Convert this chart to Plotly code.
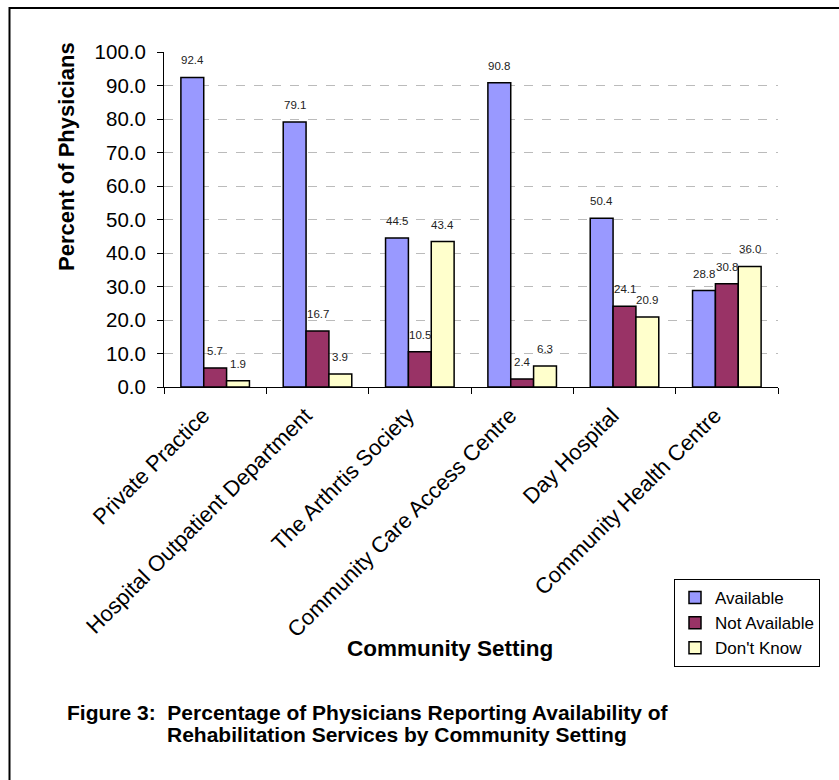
import plotly.graph_objects as go

# Survey results: share of physicians reporting rehabilitation availability
categories = [
    "Private Practice",
    "Hospital Outpatient Department",
    "The Arthrtis Society",
    "Community Care Access Centre",
    "Day Hospital",
    "Community Health Centre",
]
available = [92.4, 79.1, 44.5, 90.8, 50.4, 28.8]
not_available = [5.7, 16.7, 10.5, 2.4, 24.1, 30.8]
dont_know = [1.9, 3.9, 43.4, 6.3, 20.9, 36.0]

series_names = ["Available", "Not Available", "Don't Know"]
series_values = [available, not_available, dont_know]
series_colors = ["#9999FF", "#993366", "#FFFFCC"]

FONT = "Arial, Liberation Sans, sans-serif"
W, H = 839, 780
ML, MR, MT, MB = 164, 61, 52, 393
BARGAP = 0.33

plot_w = W - ML - MR
plot_h = H - MT - MB

fig = go.Figure()
for name, vals, col in zip(series_names, series_values, series_colors):
    fig.add_trace(go.Bar(
        name=name, x=categories, y=vals,
        marker=dict(color=col, line=dict(color="black", width=1.5)),
    ))

# value labels above each bar
bar_px = plot_w / len(categories) * (1 - BARGAP) / len(series_names)
annotations = []
for i, vals in enumerate(series_values):
    offset = (i - (len(series_names) - 1) / 2) * bar_px
    for cat, v in zip(categories, vals):
        annotations.append(dict(
            x=cat, y=v, xref="x", yref="y", text=f"{v:.1f}",
            showarrow=False, xshift=offset, yshift=17, yanchor="middle",
            font=dict(family=FONT, size=11.5, color="#222"),
        ))


def px_to_paper_x(px):
    return (px - ML) / plot_w


def px_to_paper_y(py):
    return (H - MB - py) / plot_h


def paper_text(px, py, text, size, xanchor="center", angle=0):
    return dict(
        x=px_to_paper_x(px), y=px_to_paper_y(py), xref="paper", yref="paper",
        xanchor=xanchor, yanchor="middle", text=text, showarrow=False,
        textangle=angle, font=dict(family=FONT, size=size, color="black"),
    )


# axis titles
annotations.append(paper_text(66, 157, "<b>Percent of Physicians</b>", 22, angle=-90))
annotations.append(paper_text(450, 648, "<b>Community Setting</b>", 22.5))
# figure caption
annotations.append(paper_text(
    65, 712, "<b>Figure 3:  Percentage of Physicians Reporting Availability of</b>",
    21, xanchor="left"))
annotations.append(paper_text(
    165, 734, "<b>Rehabilitation Services by Community Setting</b>",
    21, xanchor="left"))

# outer frame around the whole figure
shapes = [dict(
    type="rect", xref="paper", yref="paper",
    x0=px_to_paper_x(9.5), x1=px_to_paper_x(900),
    y0=px_to_paper_y(900), y1=px_to_paper_y(8),
    line=dict(color="black", width=2),
)]

fig.update_layout(
    width=W, height=H,
    margin=dict(l=ML, r=MR, t=MT, b=MB),
    paper_bgcolor="white", plot_bgcolor="white",
    barmode="group", bargap=BARGAP, bargroupgap=0,
    font=dict(family=FONT, color="black"),
    annotations=annotations, shapes=shapes,
    showlegend=True,
    legend=dict(
        x=px_to_paper_x(674), y=px_to_paper_y(579), xanchor="left", yanchor="top",
        bordercolor="black", borderwidth=1, bgcolor="white",
        font=dict(family=FONT, size=17, color="black"),
        tracegroupgap=0, itemwidth=30,
    ),
    xaxis=dict(
        showline=True, linecolor="black", linewidth=1,
        ticks="outside", tickson="boundaries", ticklen=6, tickcolor="black",
        tickangle=-45, tickfont=dict(family=FONT, size=22, color="black"),
        ticklabelshift=-12, ticklabelstandoff=6,
        showgrid=False,
    ),
    yaxis=dict(
        range=[0, 100], dtick=10, tickformat=".1f",
        showline=True, linecolor="black", linewidth=1,
        ticks="outside", ticklen=6, tickcolor="black",
        ticklabelstandoff=7,
        tickfont=dict(family=FONT, size=20.5, color="black"),
        showgrid=True, gridcolor="#bbbbbb", griddash="dash", gridwidth=1,
        zeroline=False,
    ),
)

fig.write_html("out.html")
